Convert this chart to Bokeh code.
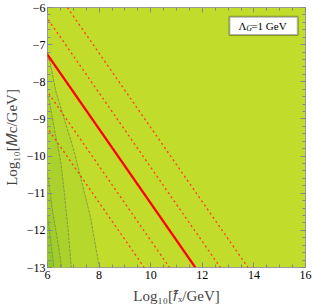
from bokeh.plotting import figure
from bokeh.models import (LinearAxis, SingleIntervalTicker, Slope, BoxAnnotation, Label,
                          CustomJSTickFormatter)
from bokeh.embed import file_html
from bokeh.resources import INLINE

# ---- data ----
x_ticks = [6, 8, 10, 12, 14, 16]
x_tick_labels = ["6", "8", "10", "12", "14", "16"]
y_ticks = [-6, -7, -8, -9, -10, -11, -12, -13]
y_tick_labels = ["\u22126", "\u22127", "\u22128", "\u22129", "\u221210", "\u221211", "\u221212", "\u221213"]

# straight constraint lines (slope -1 in log-log), intercepts Log10 f + Log10 M
solid_intercept = -1.27
dotted_intercepts = [0.77, -0.30, -2.27, -3.25]
line_gradient = -1.0

# contour curves of the background density (lower-left corner)
c1_x = [6.0, 6.09, 6.32, 6.71, 7.03, 7.35, 7.67, 7.99, 8.02]
c1_y = [-7.30, -7.44, -8.25, -9.14, -9.86, -10.76, -11.66, -12.92, -13.0]
c2_x = [6.0, 6.06, 6.28, 6.51, 6.66, 6.80, 6.92]
c2_y = [-8.35, -8.47, -9.32, -10.13, -11.03, -12.0, -13.0]
c3_x = [6.0, 6.2, 6.4, 6.55]
c3_y = [-10.45, -11.5, -12.3, -13.0]
c4_x = [6.0, 6.15, 6.25]
c4_y = [-11.6, -12.4, -13.0]
contours_x = [c1_x, c2_x, c3_x, c4_x]
contours_y = [c1_y, c2_y, c3_y, c4_y]
corner = (6.0, -13.0)

bg_color = "#c1dc2a"
level_colors = ["#b6d72c", "#abd12c", "#a0cc2c", "#94c62c"]

legend_text = ["\u039b", "G", "=1 GeV"]

# ---- figure ----
p = figure(width=312, height=307, x_range=(6, 16), y_range=(-13, -6),
           output_backend="svg", toolbar_location=None,
           min_border_left=46, min_border_right=7, min_border_top=7, min_border_bottom=40,
           background_fill_color=bg_color, border_fill_color="white")
p.grid.visible = False
p.outline_line_color = "#9a9a9a"
p.outline_line_width = 1

# filled contour regions
for cx, cy, col in zip(contours_x, contours_y, level_colors):
    px = list(cx) + [corner[0]]
    py = list(cy) + [corner[1]]
    p.patch(px, py, fill_color=col, line_color=None)
for cx, cy in zip(contours_x, contours_y):
    p.line(cx, cy, line_color="#7d9440", line_width=1.0, line_alpha=0.85, line_dash="3 1")

# straight lines
for b in dotted_intercepts:
    p.add_layout(Slope(gradient=line_gradient, y_intercept=b, line_color="#ff3a1a",
                       line_width=1.3, line_dash="2 3"))
p.add_layout(Slope(gradient=line_gradient, y_intercept=solid_intercept,
                   line_color="#ff0000", line_width=2.2))

# legend box
box = BoxAnnotation(left=13.05, right=15.70, top=-6.25, bottom=-6.74,
                    fill_color="white", fill_alpha=1.0, line_color="black", line_width=2)
p.add_layout(box)
font = "Liberation Serif"
p.add_layout(Label(x=13.40, y=-6.495, text=legend_text[0], text_font=font, text_font_size="11px",
                   text_baseline="middle", text_color="black"))
p.add_layout(Label(x=13.40, y=-6.495, x_offset=8, y_offset=-3, text=legend_text[1], text_font=font,
                   text_font_size="7.5px", text_font_style="italic", text_baseline="middle",
                   text_color="black"))
p.add_layout(Label(x=13.40, y=-6.495, x_offset=13, text=legend_text[2], text_font=font,
                   text_font_size="11px", text_baseline="middle", text_color="black"))

# axes
def style(ax):
    ax.axis_line_color = None
    ax.major_tick_in = 5
    ax.major_tick_out = 0
    ax.minor_tick_in = 3
    ax.minor_tick_out = 0
    ax.major_tick_line_color = "#888888"
    ax.minor_tick_line_color = "#888888"
    ax.major_label_text_font = font
    ax.major_label_text_color = "black"
    ax.major_label_text_font_size = "12px"

p.xaxis.ticker = SingleIntervalTicker(interval=2, num_minor_ticks=4)
p.yaxis.ticker = SingleIntervalTicker(interval=1, num_minor_ticks=5)
style(p.xaxis[0])
style(p.yaxis[0])
p.xaxis.major_label_standoff = 3
p.yaxis.major_label_standoff = 2
p.xaxis.major_label_overrides = {t: l for t, l in zip(x_ticks, x_tick_labels)}
p.yaxis.major_label_overrides = {t: l for t, l in zip(y_ticks, y_tick_labels)}

p.xaxis.axis_label = "Log\u2081\u2080[\U0001D453\u0302\u2093/GeV]"
p.yaxis.axis_label = "Log\u2081\u2080[\U0001D440c/GeV]"
for ax in (p.xaxis[0], p.yaxis[0]):
    ax.axis_label_text_font = font
    ax.axis_label_text_font_style = "normal"
    ax.axis_label_text_font_size = "15px"
p.xaxis.axis_label_standoff = 6
p.yaxis.axis_label_standoff = 4

empty = CustomJSTickFormatter(code="return ''")
top = LinearAxis(ticker=SingleIntervalTicker(interval=2, num_minor_ticks=4), formatter=empty)
right = LinearAxis(ticker=SingleIntervalTicker(interval=1, num_minor_ticks=5), formatter=empty)
for ax in (top, right):
    style(ax)
    ax.major_label_standoff = 0
p.add_layout(top, "above")
p.add_layout(right, "right")

open("out.html", "w").write(file_html(p, INLINE))
